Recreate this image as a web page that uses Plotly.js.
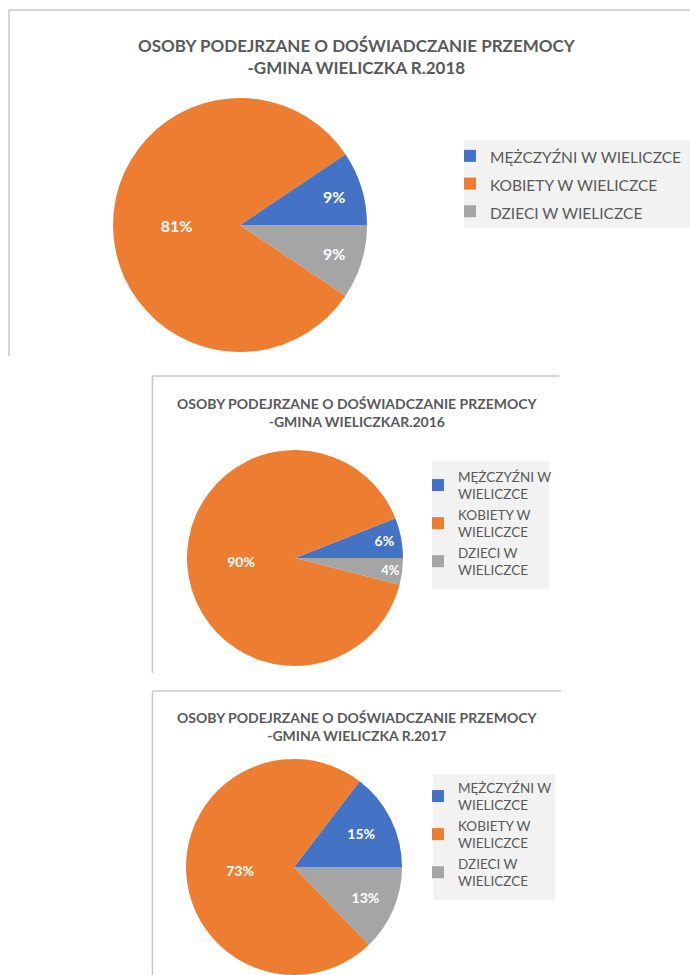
<!DOCTYPE html>
<html>
<head>
<meta charset="utf-8">
<script src="https://cdn.plot.ly/plotly-3.0.1.min.js"></script>
<style>
html,body{margin:0;padding:0;background:#fff;}
#chart{width:690px;height:975px;}
</style>
</head>
<body>
<div id="chart"></div>
<script>
// ---- data ----
var categories = ["MĘŻCZYŹNI W WIELICZCE", "KOBIETY W WIELICZCE", "DZIECI W WIELICZCE"];
var categoriesWrapped = ["MĘŻCZYŹNI W<br>WIELICZCE", "KOBIETY W<br>WIELICZCE", "DZIECI W<br>WIELICZCE"];
var values2018 = [9.4, 81.2, 9.4];
var values2016 = [6, 90, 4];
var values2017 = [14.6, 72.6, 12.8];
var titles = [
  "OSOBY PODEJRZANE O DOŚWIADCZANIE PRZEMOCY<br>-GMINA WIELICZKA R.2018",
  "OSOBY PODEJRZANE O DOŚWIADCZANIE PRZEMOCY<br>-GMINA WIELICZKAR.2016",
  "OSOBY PODEJRZANE O DOŚWIADCZANIE PRZEMOCY<br>-GMINA WIELICZKA R.2017"
];
var colors = ["#4472C4", "#ED7D31", "#A5A5A5"];

var W = 690, H = 975;
function px(x){ return x / W; }
function py(y){ return 1 - y / H; }

var FONT = "Lato, 'Open Sans', sans-serif";
var textColor = "#595959";

// first slice (blue) starts at 3 o'clock and runs counterclockwise
function startRotation(vals){
  var tot = vals.reduce(function(a, b){ return a + b; }, 0);
  return 90 - 360 * vals[0] / tot;
}

function pieTrace(vals, labels, domain, legendId, fontSize){
  return {
    type: "pie",
    values: vals,
    labels: labels,
    sort: false,
    direction: "counterclockwise",
    rotation: startRotation(vals),
    marker: {colors: colors, line: {width: 0}},
    texttemplate: "%{percent:.0%}",
    textposition: "inside",
    insidetextorientation: "horizontal",
    textfont: {family: FONT, size: fontSize, color: "#ffffff", weight: "bold"},
    hoverinfo: "label+percent",
    domain: domain,
    legend: legendId,
    showlegend: true
  };
}

// legend labels per chart (distinct strings so each legend keeps its own entries)
var legendLabels1 = categories.map(function(c){ return '<span style="font-size:15.5px">' + c + '</span>'; });
var legendLabels2 = categoriesWrapped.slice();
var legendLabels3 = categoriesWrapped.map(function(c){ return '<span>' + c + '</span>'; });

var data = [
  pieTrace(values2018, legendLabels1, {x: [px(113), px(367)], y: [py(352), py(98)]}, "legend", 16),
  pieTrace(values2016, legendLabels2, {x: [px(187), px(403)], y: [py(666), py(450)]}, "legend2", 14),
  pieTrace(values2017, legendLabels3, {x: [px(185), px(403)], y: [0, py(759)]}, "legend3", 14)
];

function titleAnn(text, cx, cy, size){
  return {
    text: text, xref: "paper", yref: "paper", x: px(cx), y: py(cy),
    xanchor: "center", yanchor: "middle", showarrow: false, align: "center",
    font: {family: FONT, size: size, color: textColor, weight: "bold"}
  };
}

function line(x0, y0, x1, y1){
  return {type: "line", xref: "paper", yref: "paper", layer: "below",
    x0: px(x0), y0: py(y0), x1: px(x1), y1: py(y1),
    line: {color: "#C8C8C8", width: 1.5}};
}
function box(x0, y0, x1, y1){
  return {type: "rect", xref: "paper", yref: "paper", layer: "below",
    x0: px(x0), y0: py(y0), x1: px(x1), y1: py(y1),
    fillcolor: "#F2F2F2", line: {width: 0}};
}

var legendBase = {
  bgcolor: "rgba(0,0,0,0)", borderwidth: 0,
  xanchor: "left", yanchor: "top",
  traceorder: "normal",
  itemclick: false, itemdoubleclick: false
};

var layout = {
  width: W, height: H,
  margin: {l: 0, r: 0, t: 0, b: 0},
  paper_bgcolor: "#ffffff",
  showlegend: true,
  legend: Object.assign({}, legendBase, {
    x: px(450), y: py(137),
    font: {family: FONT, size: 19, color: textColor}
  }),
  legend2: Object.assign({}, legendBase, {
    x: px(418), y: py(461),
    font: {family: FONT, size: 13.5, color: textColor}
  }),
  legend3: Object.assign({}, legendBase, {
    x: px(418), y: py(772),
    font: {family: FONT, size: 13.5, color: textColor}
  }),
  annotations: [
    titleAnn(titles[0], 357, 57, 17),
    titleAnn(titles[1], 357, 413, 14),
    titleAnn(titles[2], 357, 726, 14)
  ],
  shapes: [
    line(9, 10, 690, 10), line(9, 10, 9, 356),
    line(152.5, 376, 559, 376), line(152.5, 376, 152.5, 673),
    line(152.5, 691, 561, 691), line(152.5, 691, 152.5, 975),
    box(464, 140, 690, 228),
    box(432, 461, 549, 589),
    box(433, 774, 555, 900)
  ]
};

Plotly.newPlot("chart", data, layout, {displayModeBar: false, staticPlot: true});
</script>
</body>
</html>
